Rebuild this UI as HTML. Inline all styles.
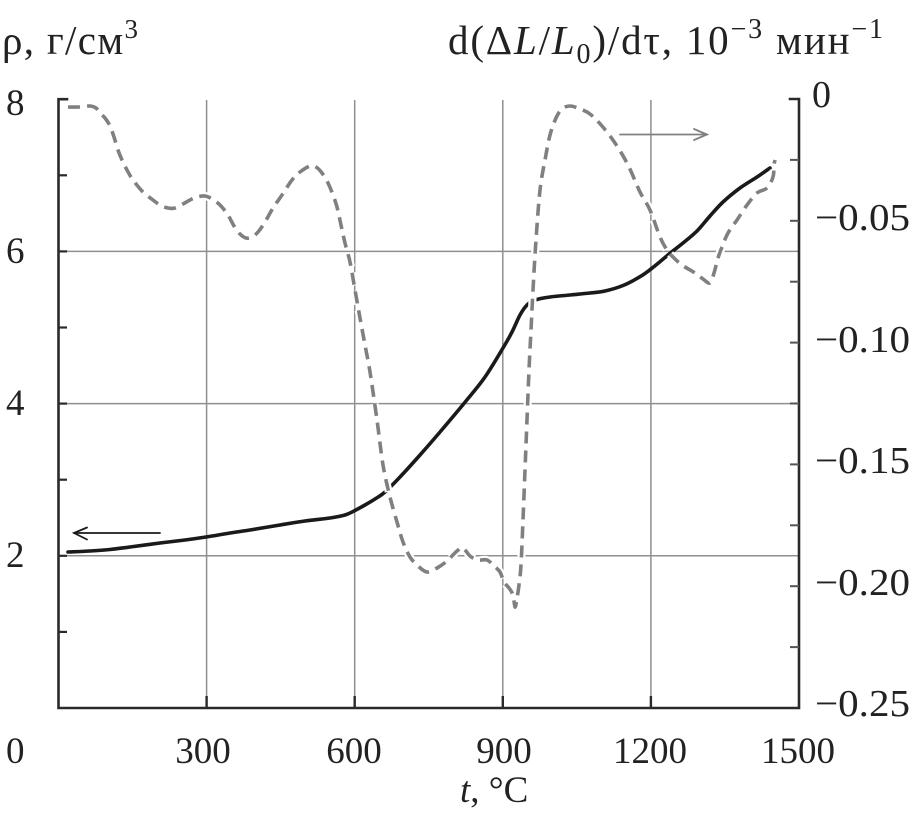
<!DOCTYPE html>
<html>
<head>
<meta charset="utf-8">
<style>
html,body{margin:0;padding:0;background:#fff;}
svg{display:block;}
text{font-family:"Liberation Serif","DejaVu Serif",serif;fill:#222;}
</style>
</head>
<body>
<svg id="chart" width="915" height="816" viewBox="0 0 915 816" xmlns="http://www.w3.org/2000/svg">
  <!-- grid -->
  <g stroke="#8f8f8f" stroke-width="1.5" fill="none">
    <line x1="58.5" y1="251.4" x2="799" y2="251.4"/>
    <line x1="58.5" y1="403.6" x2="799" y2="403.6"/>
    <line x1="58.5" y1="555.8" x2="799" y2="555.8"/>
    <line x1="206.6" y1="100" x2="206.6" y2="708"/>
    <line x1="354.7" y1="100" x2="354.7" y2="708"/>
    <line x1="502.8" y1="100" x2="502.8" y2="708"/>
    <line x1="650.9" y1="100" x2="650.9" y2="708"/>
  </g>

  <!-- axes -->
  <g stroke="#2a2a2a" stroke-width="2.6" fill="none" stroke-linecap="square">
    <polyline points="67,99.2 58.5,99.2 58.5,708 799,708 799,99 790,99"/>
  </g>
  <!-- left ticks -->
  <g stroke="#2a2a2a" stroke-width="2.2">
    <line x1="58.5" y1="175.3" x2="67" y2="175.3"/>
    <line x1="58.5" y1="251.4" x2="67" y2="251.4"/>
    <line x1="58.5" y1="327.5" x2="67" y2="327.5"/>
    <line x1="58.5" y1="403.6" x2="67" y2="403.6"/>
    <line x1="58.5" y1="479.7" x2="67" y2="479.7"/>
    <line x1="58.5" y1="555.8" x2="67" y2="555.8"/>
    <line x1="58.5" y1="631.9" x2="67" y2="631.9"/>
  </g>
  <!-- right ticks -->
  <g stroke="#555" stroke-width="2">
    <line x1="790" y1="159.9" x2="799" y2="159.9"/>
    <line x1="790" y1="220.8" x2="799" y2="220.8"/>
    <line x1="790" y1="281.7" x2="799" y2="281.7"/>
    <line x1="790" y1="342.6" x2="799" y2="342.6"/>
    <line x1="790" y1="403.5" x2="799" y2="403.5"/>
    <line x1="790" y1="464.4" x2="799" y2="464.4"/>
    <line x1="790" y1="525.3" x2="799" y2="525.3"/>
    <line x1="790" y1="586.2" x2="799" y2="586.2"/>
    <line x1="790" y1="647.1" x2="799" y2="647.1"/>
  </g>
  <!-- bottom ticks -->
  <g stroke="#2a2a2a" stroke-width="2.4">
    <line x1="206.6" y1="696" x2="206.6" y2="708"/>
    <line x1="354.7" y1="696" x2="354.7" y2="708"/>
    <line x1="502.8" y1="696" x2="502.8" y2="708"/>
    <line x1="650.9" y1="696" x2="650.9" y2="708"/>
  </g>

  <!-- solid density curve -->
  <polyline class="smooth" fill="none" stroke="#1a1a1a" stroke-width="3.6" stroke-linejoin="round" stroke-linecap="round"
    points="68,552 90,551 110,549.5 130,547 160,543 185,540 206,537 230,533 250,530 280,525 305,521 330,518 345,515 354,511 365,505 375,499 385,492 400,477 420,455 440,432 466,401 485,377 503,348 512,332 520,315 527,305 535,300 550,297 570,295 590,293 605,291 623,285.5 640,276.7 651,269 660,261.7 670,253.3 683,243 697,231 710,216 723,202 740,188 757,177 770,168"/>

  <!-- white halo for dashed -->
  <polyline class="smooth" fill="none" stroke="#fff" stroke-width="8" stroke-dasharray="13 6" stroke-linejoin="round"
    points="68,107 80,107 90,106 96,108 100,113 105,118 110,126 114,137 118,150 122,160 127,170 133,180 143,192 153,200 160,205 168,208 175,208 183,204 190,200 197,197 205,196 212,199 220,205 228,215 234,226 240,234 246,238 252,237 258,232 265,222 273,208 282,195 292,180 300,172 310,166 316,167 322,173 328,183 333,195 337,207 341,225 345,243 350,262 355,290 360,318 365,345 370,372 377,420 383,465 390,497 397,522 403,542 410,557 418,566 427,572 437,568 447,561 457,551 463,548 470,556 478,560 487,560 494,566 500,572 504,582 509,588 513,595 515,607 517,598 519,585 521,565 523,520 525,470 527,420 529,370 531,330 533,290 536,240 540,190 545,160 550,135 556,118 562,109 570,106 580,109 590,114 602,126 615,143 628,165 640,192 650,210 660,237 667,250 673,257 682,265 695,273 703,279 710,283 714,273 718,258 722,247 728,233 737,220 747,205 757,193 767,188 773,177 774,165 775,160"/>
  <!-- dashed derivative curve -->
  <polyline class="smooth" fill="none" stroke="#808080" stroke-width="3.6" stroke-dasharray="12 7" stroke-linejoin="round"
    points="68,107 80,107 90,106 96,108 100,113 105,118 110,126 114,137 118,150 122,160 127,170 133,180 143,192 153,200 160,205 168,208 175,208 183,204 190,200 197,197 205,196 212,199 220,205 228,215 234,226 240,234 246,238 252,237 258,232 265,222 273,208 282,195 292,180 300,172 310,166 316,167 322,173 328,183 333,195 337,207 341,225 345,243 350,262 355,290 360,318 365,345 370,372 377,420 383,465 390,497 397,522 403,542 410,557 418,566 427,572 437,568 447,561 457,551 463,548 470,556 478,560 487,560 494,566 500,572 504,582 509,588 513,595 515,607 517,598 519,585 521,565 523,520 525,470 527,420 529,370 531,330 533,290 536,240 540,190 545,160 550,135 556,118 562,109 570,106 580,109 590,114 602,126 615,143 628,165 640,192 650,210 660,237 667,250 673,257 682,265 695,273 703,279 710,283 714,273 718,258 722,247 728,233 737,220 747,205 757,193 767,188 773,177 774,165 775,160"/>

  <!-- arrows -->
  <g stroke="#1a1a1a" stroke-width="1.8" fill="none" stroke-linecap="round">
    <line x1="74" y1="533" x2="160" y2="533"/>
    <polyline points="87,527.5 74,533 87,539.5"/>
  </g>
  <g stroke="#808080" stroke-width="1.8" fill="none" stroke-linecap="round">
    <line x1="620" y1="134.5" x2="707" y2="134.5"/>
    <polyline points="694,129 707,134.5 694,140"/>
  </g>

  <!-- titles -->
  <text x="2" y="54" font-size="41" textLength="136" lengthAdjust="spacing">ρ, г/см<tspan font-size="27" dy="-16">3</tspan></text>
  <text x="448" y="54" font-size="41" textLength="435" lengthAdjust="spacing">d(Δ<tspan font-style="italic">L</tspan>/<tspan font-style="italic">L</tspan><tspan font-size="28" dy="9">0</tspan><tspan dy="-9">)/dτ, 10</tspan><tspan font-size="28" dy="-16">−3</tspan><tspan dy="16"> мин</tspan><tspan font-size="28" dy="-16">−1</tspan></text>

  <!-- left tick labels -->
  <g font-size="37">
    <text x="6" y="115">8</text>
    <text x="6" y="263">6</text>
    <text x="6" y="415">4</text>
    <text x="6" y="567">2</text>
    <text x="6" y="763">0</text>
  </g>
  <!-- x tick labels -->
  <g font-size="37" text-anchor="middle">
    <text x="203" y="763">300</text>
    <text x="354" y="763">600</text>
    <text x="504" y="763">900</text>
    <text x="650" y="763">1200</text>
    <text x="798" y="763">1500</text>
  </g>
  <text x="460" y="802" font-size="37"><tspan font-style="italic">t</tspan>, °C</text>

  <!-- right tick labels -->
  <g font-size="38">
    <text x="812" y="107">0</text>
    <text x="815" y="230" textLength="95" lengthAdjust="spacingAndGlyphs">−0.05</text>
    <text x="815" y="352" textLength="95" lengthAdjust="spacingAndGlyphs">−0.10</text>
    <text x="815" y="473" textLength="95" lengthAdjust="spacingAndGlyphs">−0.15</text>
    <text x="815" y="595" textLength="95" lengthAdjust="spacingAndGlyphs">−0.20</text>
    <text x="815" y="716" textLength="95" lengthAdjust="spacingAndGlyphs">−0.25</text>
  </g>
</svg>
<script>
(function(){
  var NS="http://www.w3.org/2000/svg";
  var pls=document.querySelectorAll("polyline.smooth");
  for(var i=0;i<pls.length;i++){
    var pl=pls[i];
    var raw=pl.getAttribute("points").trim().split(/\s+/);
    var p=[];
    for(var j=0;j<raw.length;j++){var c=raw[j].split(",");p.push([+c[0],+c[1]]);}
    var d="M"+p[0][0]+","+p[0][1];
    for(var k=0;k<p.length-1;k++){
      var p0=p[k>0?k-1:k],p1=p[k],p2=p[k+1],p3=p[k+2<p.length?k+2:k+1];
      var c1x=p1[0]+(p2[0]-p0[0])/6,c1y=p1[1]+(p2[1]-p0[1])/6;
      var c2x=p2[0]-(p3[0]-p1[0])/6,c2y=p2[1]-(p3[1]-p1[1])/6;
      d+=" C"+c1x.toFixed(2)+","+c1y.toFixed(2)+" "+c2x.toFixed(2)+","+c2y.toFixed(2)+" "+p2[0]+","+p2[1];
    }
    var path=document.createElementNS(NS,"path");
    for(var a=0;a<pl.attributes.length;a++){
      var at=pl.attributes[a];
      if(at.name!=="points"&&at.name!=="class")path.setAttribute(at.name,at.value);
    }
    path.setAttribute("d",d);
    pl.parentNode.replaceChild(path,pl);
  }
})();
</script>
</body>
</html>
